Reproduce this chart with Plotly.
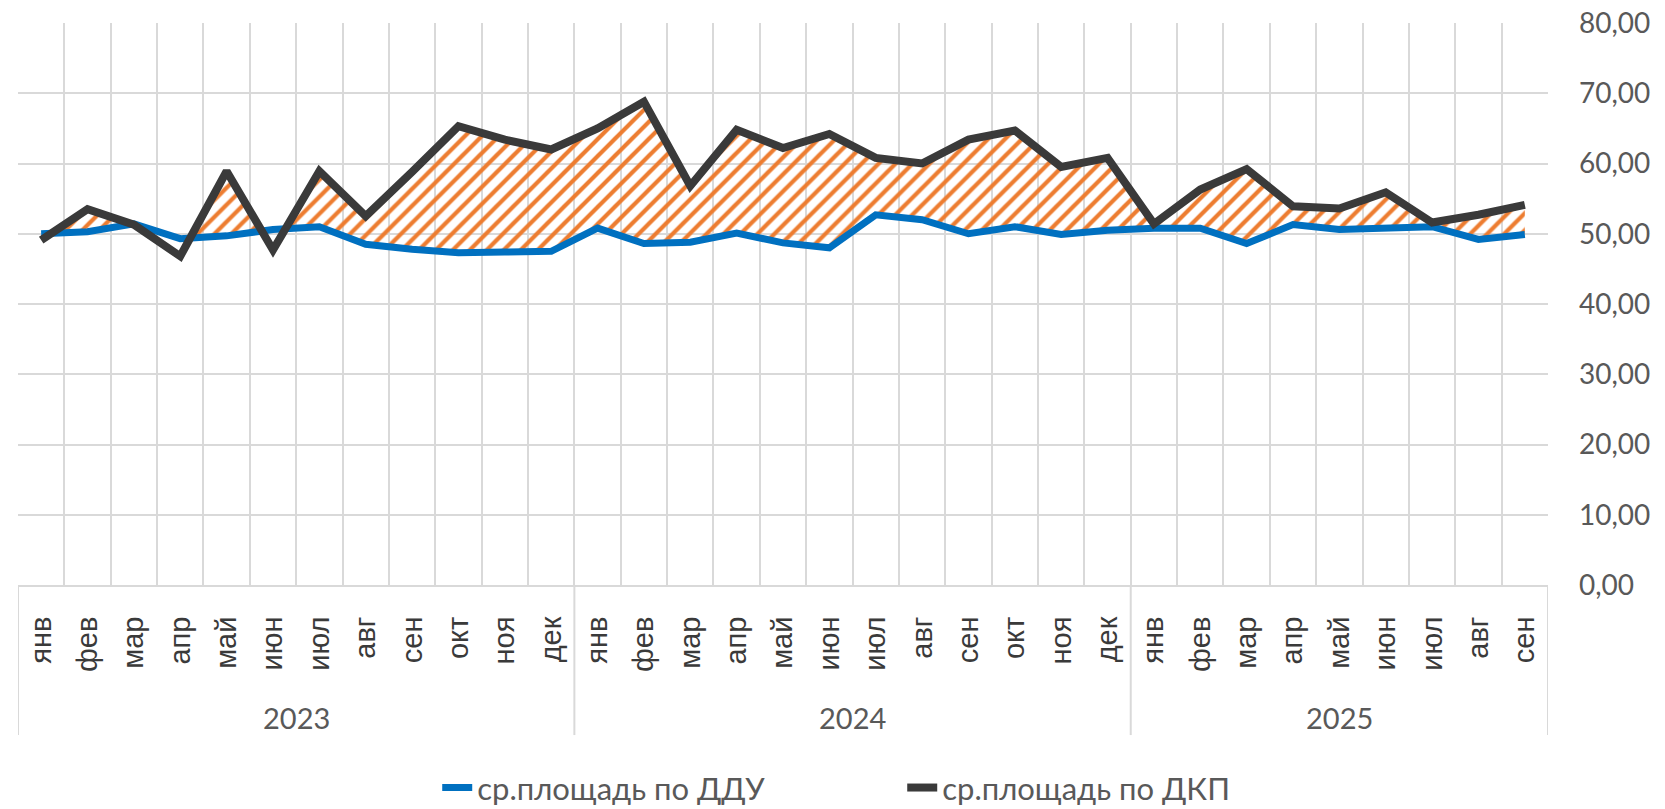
import plotly.graph_objects as go

months = ["янв", "фев", "мар", "апр", "май", "июн", "июл", "авг", "сен", "окт", "ноя", "дек",
          "янв", "фев", "мар", "апр", "май", "июн", "июл", "авг", "сен", "окт", "ноя", "дек",
          "янв", "фев", "мар", "апр", "май", "июн", "июл", "авг", "сен"]
years = ["2023", "2024", "2025"]
year_counts = [12, 12, 9]

ddu = [50.0, 50.3, 51.4, 49.3, 49.7, 50.6, 51.0, 48.5, 47.8, 47.3, 47.4, 47.5,
       50.8, 48.6, 48.8, 50.1, 48.7, 48.0, 52.7, 52.0, 50.0, 51.0, 49.9, 50.5,
       50.8, 50.8, 48.6, 51.3, 50.6, 50.7, 51.0, 49.2, 49.9]
dkp = [49.1, 53.5, 51.3, 46.8, 58.9, 47.7, 58.9, 52.5, 58.8, 65.3, 63.4, 62.0,
       65.0, 68.8, 56.8, 64.8, 62.2, 64.2, 60.8, 60.0, 63.4, 64.7, 59.5, 60.8,
       51.4, 56.3, 59.2, 53.9, 53.6, 55.9, 51.6, 52.7, 54.1]

y_ticks = [0, 10, 20, 30, 40, 50, 60, 70, 80]

n = len(months)
xs = list(range(n))

# hatched band only where ДКП is above ДДУ (crossings computed from the data)
fx, lo, hi = [], [], []
for i in range(n):
    fx.append(xs[i]); lo.append(ddu[i]); hi.append(max(ddu[i], dkp[i]))
    if i < n - 1:
        d0 = dkp[i] - ddu[i]
        d1 = dkp[i + 1] - ddu[i + 1]
        if d0 * d1 < 0:
            t = d0 / (d0 - d1)
            yc = ddu[i] + t * (ddu[i + 1] - ddu[i])
            fx.append(xs[i] + t); lo.append(yc); hi.append(yc)

GRID = "#D9D9D9"
TXT = "#595959"
NUMFONT = "Lato"

fig = go.Figure()
fig.add_trace(go.Scatter(x=fx, y=lo, mode="lines", line=dict(width=0, color="rgba(0,0,0,0)"),
                         showlegend=False, hoverinfo="skip"))
fig.add_trace(go.Scatter(x=fx, y=hi, mode="lines", line=dict(width=0, color="rgba(0,0,0,0)"),
                         fill="tonexty", fillcolor="rgba(0,0,0,0)",
                         fillpattern=dict(shape="/", fgcolor="#ED7D31", fgopacity=1,
                                          bgcolor="rgba(255,255,255,0)",
                                          size=12, solidity=0.35),
                         showlegend=False, hoverinfo="skip"))
fig.add_trace(go.Scatter(x=xs, y=ddu, mode="lines", name="ср.площадь по ДДУ",
                         line=dict(color="#0070C0", width=7)))
fig.add_trace(go.Scatter(x=xs, y=dkp, mode="lines", name="ср.площадь по ДКП",
                         line=dict(color="#3A3A3A", width=8)))

bounds = [i - 0.5 for i in range(n + 1)]
fig.update_xaxes(range=[-0.5, n - 0.5], tickmode="array", tickvals=xs, ticktext=months,
                 tickangle=-90, showgrid=False, zeroline=False, ticks="",
                 showline=True, linecolor=GRID, linewidth=2,
                 tickfont=dict(family="Liberation Sans", size=29, color="#3A3A3A"),
                 ticklabelstandoff=18,
                 minor=dict(tickmode="array", tickvals=bounds, showgrid=True, gridcolor=GRID,
                            gridwidth=2, ticks=""))
fig.update_yaxes(range=[0, 80], side="right", tickmode="array", tickvals=y_ticks,
                 tickformat=".2f", showgrid=True, gridcolor=GRID, gridwidth=2,
                 zeroline=False, showline=False, ticks="", ticklabelstandoff=30,
                 ticklabeloverflow="allow",
                 tickfont=dict(family=NUMFONT, size=28, color=TXT))

# year group labels and dividers
start = 0
div_pos = [-0.5]
for yr, cnt in zip(years, year_counts):
    center = start + (cnt - 1) / 2
    fig.add_annotation(x=center, xref="x", y=-0.235, yref="paper", text=yr, showarrow=False,
                       yanchor="middle", font=dict(family=NUMFONT, size=29, color=TXT))
    start += cnt
    div_pos.append(start - 0.5)
for xp in div_pos:
    fig.add_shape(type="line", xref="x", yref="paper", x0=xp, x1=xp, y0=0, y1=-0.267,
                  line=dict(color=GRID, width=2))

# the page body adds an 8px margin, so the figure is offset to compensate
fig.update_layout(
    width=1657, height=801,
    margin=dict(l=10, r=117, t=15, b=224, autoexpand=False),
    plot_bgcolor="white", paper_bgcolor="white",
    separators=", ",
    showlegend=True,
    legend=dict(orientation="h", x=0.274, xanchor="left", y=-0.361, yanchor="middle",
                traceorder="normal", entrywidth=420, entrywidthmode="pixels",
                font=dict(family=NUMFONT, size=31, color=TXT)),
)

fig.write_html("out.html")
